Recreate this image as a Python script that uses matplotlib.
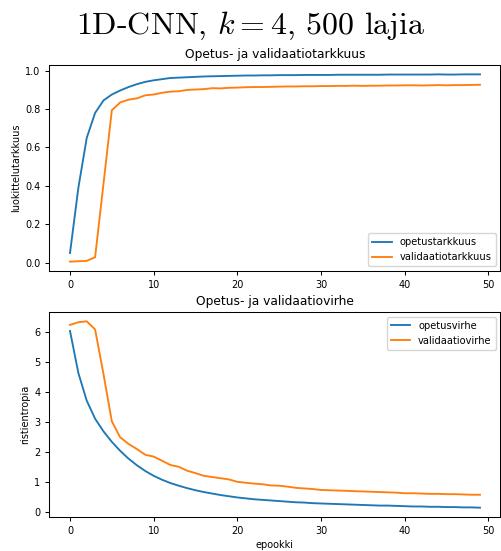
import matplotlib
matplotlib.use("Agg")
import matplotlib.pyplot as plt
import numpy as np

plt.rcParams['mathtext.fontset'] = 'cm'
plt.rcParams['axes.unicode_minus'] = False
plt.rcParams['lines.linewidth'] = 1.35
plt.rcParams['axes.linewidth'] = 0.75
plt.rcParams['xtick.major.size'] = 3.1
plt.rcParams['ytick.major.size'] = 3.1
plt.rcParams['xtick.major.width'] = 0.75
plt.rcParams['ytick.major.width'] = 0.75

epochs = list(range(50))
train_acc = [0.05, 0.39, 0.65, 0.78, 0.845, 0.876, 0.897, 0.915, 0.930, 0.942,
             0.950, 0.956, 0.962, 0.964, 0.966, 0.968, 0.970, 0.971, 0.972, 0.973,
             0.974, 0.975, 0.975, 0.976, 0.976, 0.977, 0.977, 0.977, 0.978, 0.978,
             0.978, 0.978, 0.979, 0.979, 0.979, 0.979, 0.979, 0.979, 0.980, 0.980,
             0.980, 0.980, 0.980, 0.980, 0.981, 0.980, 0.980, 0.981, 0.981, 0.981]
val_acc = [0.005, 0.007, 0.009, 0.028, 0.41, 0.794, 0.835, 0.849, 0.856, 0.872,
           0.876, 0.885, 0.891, 0.893, 0.900, 0.902, 0.904, 0.909, 0.908, 0.911,
           0.912, 0.914, 0.915, 0.915, 0.916, 0.917, 0.918, 0.918, 0.919, 0.919,
           0.920, 0.920, 0.921, 0.921, 0.922, 0.921, 0.922, 0.922, 0.923, 0.923,
           0.924, 0.924, 0.923, 0.924, 0.925, 0.924, 0.925, 0.925, 0.926, 0.927]
train_loss = [6.02, 4.62, 3.70, 3.10, 2.68, 2.33, 2.03, 1.77, 1.55, 1.36,
              1.20, 1.07, 0.96, 0.87, 0.79, 0.72, 0.66, 0.61, 0.56, 0.52,
              0.48, 0.45, 0.42, 0.40, 0.38, 0.36, 0.34, 0.32, 0.31, 0.29,
              0.28, 0.27, 0.26, 0.25, 0.24, 0.23, 0.22, 0.21, 0.21, 0.20,
              0.19, 0.18, 0.18, 0.17, 0.17, 0.16, 0.16, 0.15, 0.15, 0.14]
val_loss = [6.22, 6.31, 6.34, 6.07, 4.59, 3.01, 2.48, 2.26, 2.09, 1.90,
            1.84, 1.70, 1.56, 1.50, 1.37, 1.29, 1.20, 1.16, 1.12, 1.08,
            1.00, 0.97, 0.94, 0.92, 0.88, 0.87, 0.84, 0.80, 0.78, 0.76,
            0.73, 0.72, 0.71, 0.70, 0.69, 0.68, 0.67, 0.66, 0.65, 0.64,
            0.62, 0.62, 0.61, 0.60, 0.60, 0.59, 0.59, 0.58, 0.57, 0.57]
acc_ticks = [0.0, 0.2, 0.4, 0.6, 0.8, 1.0]

W, H = 502, 551
fig = plt.figure(figsize=(W / 100, H / 100), dpi=100)
ax1 = fig.add_axes([49.5 / W, 1 - 271 / H, 451 / W, 206 / H])
ax2 = fig.add_axes([49.5 / W, 1 - 517 / H, 451 / W, 205 / H])

fig.text(0.5, 1 - 26 / H, "1D-CNN, $k=4$, 500 lajia", fontsize=23,
         family='cmr10', ha='center', va='center')

ts, ls = 7, 7
ax1.plot(epochs, train_acc, label="opetustarkkuus")
ax1.plot(epochs, val_acc, label="validaatiotarkkuus")
ax1.set_yticks(acc_ticks)
ax1.set_title("Opetus- ja validaatiotarkkuus", fontsize=8.8, pad=5)
ax1.set_ylabel("luokittelutarkkuus", fontsize=ls, labelpad=3)
ax1.tick_params(labelsize=ts)
ax1.legend(loc="lower right", fontsize=7.1)

ax2.plot(epochs, train_loss, label="opetusvirhe")
ax2.plot(epochs, val_loss, label="validaatiovirhe")
ax2.set_title("Opetus- ja validaatiovirhe", fontsize=8.8, pad=5)
ax2.set_ylabel("ristientropia", fontsize=ls, labelpad=3)
ax2.set_xlabel("epookki", fontsize=ls, labelpad=3)
ax2.tick_params(labelsize=ts)
ax2.legend(loc="upper right", fontsize=7.1)

fig.savefig("out.png", dpi=100)
